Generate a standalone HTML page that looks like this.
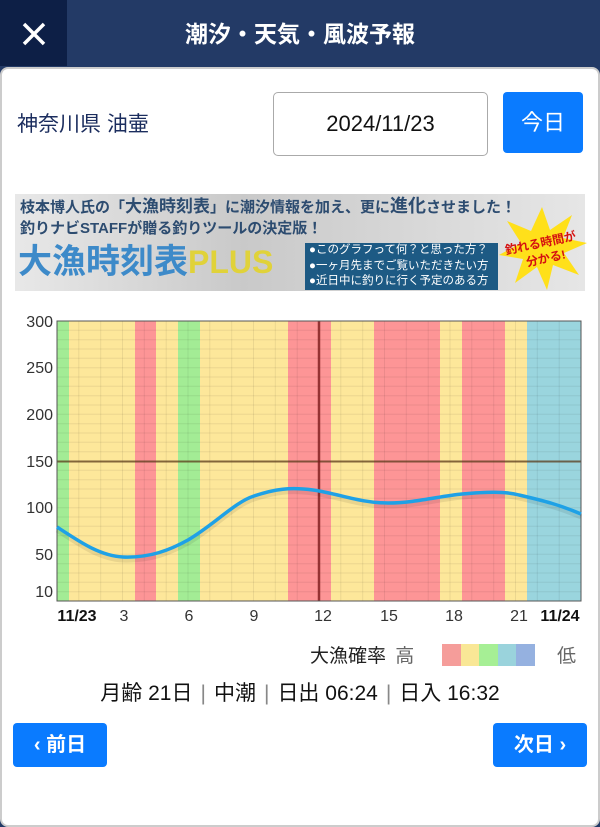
<!DOCTYPE html>
<html><head><meta charset="utf-8"><style>
*{margin:0;padding:0;box-sizing:border-box}
body{width:600px;height:806px;overflow:hidden;background:#233a66;font-family:"Liberation Sans","Noto Sans CJK JP",sans-serif;position:relative}
.abs{position:absolute}
</style></head><body>
<div class="abs" style="left:0;top:0;width:67px;height:66px;background:#0d1f46"></div>
<svg class="abs" style="left:22px;top:22px" width="24" height="24"><path d="M2 2L22 22M22 2L2 22" stroke="#fff" stroke-width="3.5"/></svg>
<div class="abs" style="left:0;right:0;top:14px;text-align:center;color:#fff;font-size:23px;font-weight:bold;line-height:40px">潮汐・天気・風波予報</div>
<div class="abs" style="left:0;top:67px;width:600px;height:760px;background:#fff;border:2px solid #ccc;border-radius:8px"></div>
<div class="abs" style="left:17px;top:110px;font-size:21px;color:#1b2d5e;line-height:30px">神奈川県 油壷</div>
<div class="abs" style="left:273px;top:92px;width:215px;height:64px;border:1.5px solid #aaa;border-radius:5px;text-align:center;line-height:62px;font-size:22px;color:#111">2024/11/23</div>
<div class="abs" style="left:503px;top:92px;width:80px;height:61px;background:#0a7bff;border-radius:4px;color:#fff;text-align:center;line-height:61px;font-size:22px">今日</div>
<div class="abs" style="left:15px;top:194px;width:570px;height:97px;background:linear-gradient(90deg,#e8e8e8,#c9c9c9 40%,#e6e6e6)"></div>
<div class="abs" style="left:20px;top:196px;font-size:15px;font-weight:bold;color:#2d4c70;line-height:20px">枝本博人氏の「<span style="font-size:17px">大漁時刻表</span>」に潮汐情報を加え、更に<span style="font-size:18px">進化</span>させました！</div>
<div class="abs" style="left:20px;top:219px;font-size:15px;font-weight:bold;color:#2d4c70;line-height:20px">釣りナビSTAFFが贈る釣りツールの決定版！</div>
<div class="abs" style="left:18px;top:240px;font-size:34px;font-weight:bold;color:#3d8ac9;line-height:44px">大漁時刻表<span style="color:#e0d23a;font-size:32px">PLUS</span></div>
<div class="abs" style="left:305px;top:243px;width:193px;height:47px;background:#1d5a84;color:#fff;font-size:11.5px;line-height:15.5px;padding-left:4px">●このグラフって何？と思った方？<br>●一ヶ月先までご覧いただきたい方<br>●近日中に釣りに行く予定のある方</div>
<svg class="abs" style="left:497px;top:205px" width="90" height="85"><polygon points="45,2 53,25 75,10 66,33 90,38 67,48 82,70 56,60 50,85 40,62 18,78 26,54 2,50 24,38 10,16 34,26" fill="#ffe01a"/><text x="45" y="42" font-size="12" font-weight="bold" fill="#d51010" text-anchor="middle" transform="rotate(-12 45 45)">釣れる時間が</text><text x="47" y="58" font-size="12" font-weight="bold" fill="#d51010" text-anchor="middle" transform="rotate(-12 45 45)">分かる!</text></svg>
<svg class="abs" style="left:0;top:300px" width="600" height="330" font-family="Liberation Sans, sans-serif">
<g transform="translate(0,-300)">
<rect x="57" y="321" width="524" height="280" fill="#fde79a"/>
<rect x="57" y="321" width="12" height="280" fill="#a3ec95"/>
<rect x="135" y="321" width="21" height="280" fill="#fd9596"/>
<rect x="178" y="321" width="22" height="280" fill="#a3ec95"/>
<rect x="288" y="321" width="43" height="280" fill="#fd9596"/>
<rect x="374" y="321" width="66" height="280" fill="#fd9596"/>
<rect x="462" y="321" width="43" height="280" fill="#fd9596"/>
<rect x="527" y="321" width="54" height="280" fill="#9ad5de"/>
<g stroke="#000" stroke-opacity="0.07" stroke-width="1">
<path d="M57 330.3H581M57 339.7H581M57 349H581M57 358.3H581M57 367.7H581M57 377H581M57 386.3H581M57 395.7H581M57 405H581M57 414.3H581M57 423.7H581M57 433H581M57 442.3H581M57 451.7H581M57 470.3H581M57 479.7H581M57 489H581M57 498.3H581M57 507.7H581M57 517H581M57 526.3H581M57 535.7H581M57 545H581M57 554.3H581M57 563.7H581M57 573H581M57 582.3H581M57 591.7H581"/>
<path d="M78.8 321V601M100.7 321V601M122.5 321V601M144.3 321V601M166.2 321V601M188 321V601M209.8 321V601M231.7 321V601M253.5 321V601M275.3 321V601M297.2 321V601M340.8 321V601M362.7 321V601M384.5 321V601M406.3 321V601M428.2 321V601M450 321V601M471.8 321V601M493.7 321V601M515.5 321V601M537.3 321V601M559.2 321V601"/>
</g>
<path d="M57 461.5H581" stroke="#5a3a1a" stroke-opacity="0.75" stroke-width="2"/>
<path d="M319 321V601" stroke="#7a1a1a" stroke-opacity="0.8" stroke-width="2.5"/>
<rect x="57" y="321" width="524" height="280" fill="none" stroke="#555" stroke-width="1"/>
<path d="M57 527 C80 542,100 556,123 557 C150 558,170 550,188 540 C215 524,235 502,254 496 C275 489,290 487,313 490 C340 494,360 503,388 503 C415 503,440 496,462 494 C485 492,505 491,519 495 C545 501,560 505,581 514" fill="none" stroke="#000" stroke-opacity="0.08" stroke-width="5" transform="translate(0,3)"/>
<path d="M57 527 C80 542,100 556,123 557 C150 558,170 550,188 540 C215 524,235 502,254 496 C275 489,290 487,313 490 C340 494,360 503,388 503 C415 503,440 496,462 494 C485 492,505 491,519 495 C545 501,560 505,581 514" fill="none" stroke="#1ea1e6" stroke-width="3.5"/>
<g font-size="16" fill="#333" text-anchor="end">
<text x="53" y="327">300</text><text x="53" y="373">250</text><text x="53" y="420">200</text><text x="53" y="467">150</text><text x="53" y="513">100</text><text x="53" y="560">50</text><text x="53" y="597">10</text>
</g>
<g font-size="16" fill="#333" text-anchor="middle">
<text x="77" y="621" font-weight="bold" fill="#111">11/23</text><text x="124" y="621">3</text><text x="189" y="621">6</text><text x="254" y="621">9</text><text x="323" y="621">12</text><text x="389" y="621">15</text><text x="454" y="621">18</text><text x="519" y="621">21</text><text x="560" y="621" font-weight="bold" fill="#111">11/24</text>
</g>
</g></svg>
<div class="abs" style="left:310px;top:643px;font-size:19px;color:#222;line-height:28px">大漁確率 <span style="color:#666;margin-left:4px">高</span></div>
<div class="abs" style="left:442px;top:644px;width:19px;height:22px;background:#f59d9a"></div>
<div class="abs" style="left:461px;top:644px;width:18px;height:22px;background:#f9e796"></div>
<div class="abs" style="left:479px;top:644px;width:19px;height:22px;background:#a6ef95"></div>
<div class="abs" style="left:498px;top:644px;width:18px;height:22px;background:#9ad3dc"></div>
<div class="abs" style="left:516px;top:644px;width:19px;height:22px;background:#95b1e0"></div>
<div class="abs" style="left:557px;top:643px;font-size:19px;color:#666;line-height:28px">低</div>
<div class="abs" style="left:0;width:600px;top:680px;text-align:center;font-size:21px;color:#111;line-height:28px">月齢 21日<span style="color:#888;margin:0 8px;font-weight:100">|</span>中潮<span style="color:#888;margin:0 8px">|</span>日出 06:24<span style="color:#888;margin:0 8px">|</span>日入 16:32</div>
<div class="abs" style="left:13px;top:723px;width:94px;height:44px;background:#0a7bff;border-radius:4px;color:#fff;font-size:20px;font-weight:bold;line-height:44px;text-align:center">‹ 前日</div>
<div class="abs" style="left:493px;top:723px;width:94px;height:44px;background:#0a7bff;border-radius:4px;color:#fff;font-size:20px;font-weight:bold;line-height:44px;text-align:center">次日 ›</div>
</body></html>
